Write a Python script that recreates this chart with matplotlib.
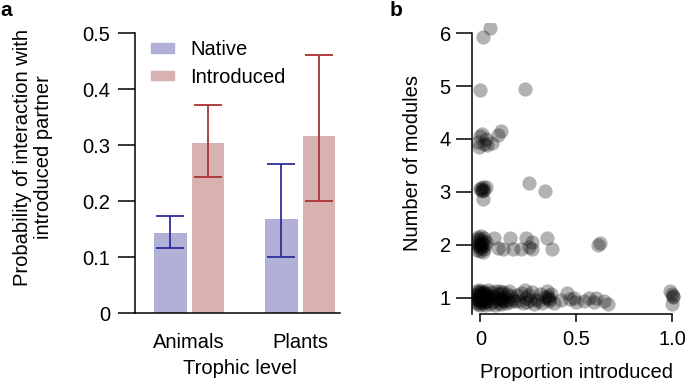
import matplotlib
matplotlib.use("Agg")
import matplotlib.pyplot as plt
from matplotlib.patches import Patch

plt.rcParams['font.family'] = ['Liberation Sans', 'DejaVu Sans']
plt.rcParams['font.size'] = 14.5

# panel a data
groups = ['Animals', 'Plants']
native_mean = [0.143, 0.168]
native_lo = [0.117, 0.100]
native_hi = [0.173, 0.267]
intro_mean = [0.304, 0.317]
intro_lo = [0.243, 0.201]
intro_hi = [0.372, 0.461]

# panel b data (proportion introduced, number of modules with jitter)
x_row1 = [-0.03, -0.025, -0.02, -0.02, -0.015, -0.01, -0.01, -0.005, 0, 0, 0, 0, 0, 0.005, 0.005,
          0.01, 0.01, 0.015, 0.015, 0.02, 0.02, 0.025, 0.025, 0.03, 0.03, 0.035, 0.04, 0.04, 0.045, 0.05,
          -0.02, -0.01, 0, 0.01, 0.02, 0.03,
          0.06, 0.065, 0.07, 0.075, 0.08, 0.085, 0.09, 0.095, 0.1, 0.1, 0.105, 0.11, 0.115, 0.12, 0.125,
          0.13, 0.135, 0.14, 0.145, 0.15, 0.155, 0.16, 0.17, 0.18, 0.19, 0.08, 0.11,
          0.2, 0.21, 0.22, 0.23, 0.24, 0.245, 0.25, 0.26, 0.27, 0.28, 0.29, 0.3, 0.31, 0.32, 0.335,
          0.345, 0.35, 0.36, 0.37, 0.385, 0.35, 0.36,
          0.42, 0.45, 0.465, 0.49, 0.5, 0.54, 0.565, 0.59, 0.6, 0.645, 0.665,
          0.99, 1.005, 0.998, 1.0, 1.002]
y_row1 = [1.05, 0.92, 1.12, 0.98, 0.88, 1.08, 0.95, 1.15, 1.02, 0.9, 1.1, 0.97, 0.86, 1.06, 0.93,
          1.13, 1.0, 0.89, 1.09, 0.96, 1.04, 0.87, 1.11, 0.99, 0.91, 1.07, 1.14, 0.94, 1.01, 0.88,
          1.0, 1.03, 0.95, 1.07, 0.93, 1.05,
          1.1, 0.92, 1.03, 0.87, 1.13, 0.97, 1.06, 0.9, 1.12, 1.0, 0.88, 1.08, 0.95, 1.11, 0.93,
          1.02, 0.89, 1.07, 0.96, 1.12, 0.91, 1.04, 0.98, 0.93, 1.05, 1.0, 0.96,
          0.94, 1.08, 0.9, 1.14, 1.0, 0.92, 1.05, 0.95, 1.1, 0.88, 0.98, 0.93, 1.06, 0.9, 1.02,
          1.12, 1.0, 0.94, 1.07, 0.89, 1.04, 0.98,
          0.95, 1.08, 0.97, 1.0, 0.92, 0.94, 1.0, 0.91, 1.0, 0.94, 0.88,
          1.13, 1.04, 0.88, 1.06, 1.02]
x_row2 = [-0.02, -0.015, -0.01, -0.005, 0, 0, 0, 0.005, 0.01, 0.01, 0.015, 0.02, 0.025, 0.03,
          -0.01, 0, 0.01, 0.02, -0.015, 0.005,
          0.07, 0.09, 0.12, 0.155, 0.17, 0.21, 0.24, 0.255, 0.27, 0.27, 0.345, 0.375, 0.61, 0.625]
y_row2 = [2.05, 1.9, 2.15, 1.97, 2.1, 1.88, 2.02, 2.17, 1.95, 2.08, 1.86, 2.12, 1.99, 2.06,
          2.0, 1.94, 2.03, 1.92, 2.1, 2.0,
          2.12, 1.93, 1.92, 2.12, 1.92, 1.92, 2.12, 1.96, 2.05, 1.92, 2.12, 1.92, 2.0, 2.04]
x_rest = [0.0, 0.005, 0.01, 0.015, 0.02, 0.03, 0.015, 0.008, 0.255, 0.338,
          -0.01, 0.01, 0.02, 0.06, 0.11, 0.09, -0.005, 0.035, 0.0, 0.03,
          0.0, 0.234, 0.052, 0.012]
y_rest = [3.05, 3.08, 3.02, 3.1, 3.04, 3.1, 2.86, 3.03, 3.16, 3.01,
          3.95, 4.1, 3.9, 3.92, 4.15, 4.08, 3.85, 3.88, 4.05, 4.0,
          4.92, 4.94, 6.1, 5.92]

prop_introduced = x_row1 + x_row2 + x_rest
n_modules = y_row1 + y_row2 + y_rest

native_fill = '#b1b1d7'
intro_fill = '#d8b1b1'
native_err = '#2e2e9a'
intro_err = '#a83434'

fig = plt.figure(figsize=(6.85, 3.81), dpi=100)

#########
# Panel a
#########
ax1 = fig.add_axes([0.1964, 0.1777, 0.300, 0.735])
pos = [0, 1]
off = 0.169
w = 0.293
xn = [p - off for p in pos]
xi = [p + off for p in pos]
ax1.bar(xn, native_mean, w, color=native_fill)
ax1.bar(xi, intro_mean, w, color=intro_fill)
ax1.errorbar(xn, native_mean,
             yerr=[[m - l for m, l in zip(native_mean, native_lo)],
                   [h - m for m, h in zip(native_mean, native_hi)]],
             fmt='none', ecolor=native_err, elinewidth=1.3, capsize=10, capthick=1.3)
ax1.errorbar(xi, intro_mean,
             yerr=[[m - l for m, l in zip(intro_mean, intro_lo)],
                   [h - m for m, h in zip(intro_mean, intro_hi)]],
             fmt='none', ecolor=intro_err, elinewidth=1.3, capsize=10, capthick=1.3)
ax1.set_xlim(-0.491, 1.36)
ax1.set_ylim(0, 0.5)
ax1.set_yticks([0, 0.1, 0.2, 0.3, 0.4, 0.5])
ax1.set_yticklabels(['0', '0.1', '0.2', '0.3', '0.4', '0.5'])
ax1.set_xticks(pos)
ax1.set_xticklabels(groups)
ax1.tick_params(axis='x', length=0, pad=14)
ax1.tick_params(axis='y', length=12.5, width=1.1, pad=5)
for s in ['top', 'right']:
    ax1.spines[s].set_visible(False)
for s in ['left', 'bottom']:
    ax1.spines[s].set_linewidth(1.1)
ax1.legend(handles=[Patch(color=native_fill, label='Native'),
                    Patch(color=intro_fill, label='Introduced')],
           loc='upper left', bbox_to_anchor=(0.08, 0.975), frameon=False,
           handlelength=1.15, handleheight=0.35, handletextpad=0.8,
           labelspacing=0.42, borderpad=0, borderaxespad=0)
fig.text(33 / 685, 1 - 157 / 381, 'Probability of interaction with\nintroduced partner',
         rotation=90, ha='center', va='center', linespacing=1.15)
fig.text(240 / 685, 1 - 369 / 381, 'Trophic level', ha='center', va='center')
fig.text(0.0, 1 - 10 / 381, 'a', fontweight='bold', ha='left', va='center', fontsize=15)

#########
# Panel b
#########
ax2 = fig.add_axes([472.3 / 685, 1 - 313.5 / 381, (682 - 472.3) / 685, (313.5 - 22.6) / 381])
ax2.scatter(prop_introduced, n_modules, s=105, color='black', alpha=0.3, linewidths=0)
ax2.set_xlim(-0.042, 1.05)
ax2.set_ylim(0.70, 6.2)
ax2.set_xticks([0, 0.5, 1.0])
ax2.set_xticklabels(['0', '0.5', '1.0'])
ax2.set_yticks([1, 2, 3, 4, 5, 6])
ax2.tick_params(axis='y', length=11.5, width=1.1, pad=4)
ax2.tick_params(axis='x', length=6, width=1.1, pad=6)
for s in ['top', 'right']:
    ax2.spines[s].set_visible(False)
for s in ['left', 'bottom']:
    ax2.spines[s].set_linewidth(1.1)
ax2.spines['left'].set_bounds(0.70, 6)
ax2.spines['bottom'].set_bounds(0, 1.0)
fig.text(413 / 685, 1 - 163 / 381, 'Number of modules', rotation=90, ha='center', va='center')
fig.text(576 / 685, 1 - 372 / 381, 'Proportion introduced', ha='center', va='center')
fig.text(390 / 685, 1 - 10 / 381, 'b', fontweight='bold', ha='left', va='center', fontsize=15)

fig.savefig('out.png', dpi=100)
